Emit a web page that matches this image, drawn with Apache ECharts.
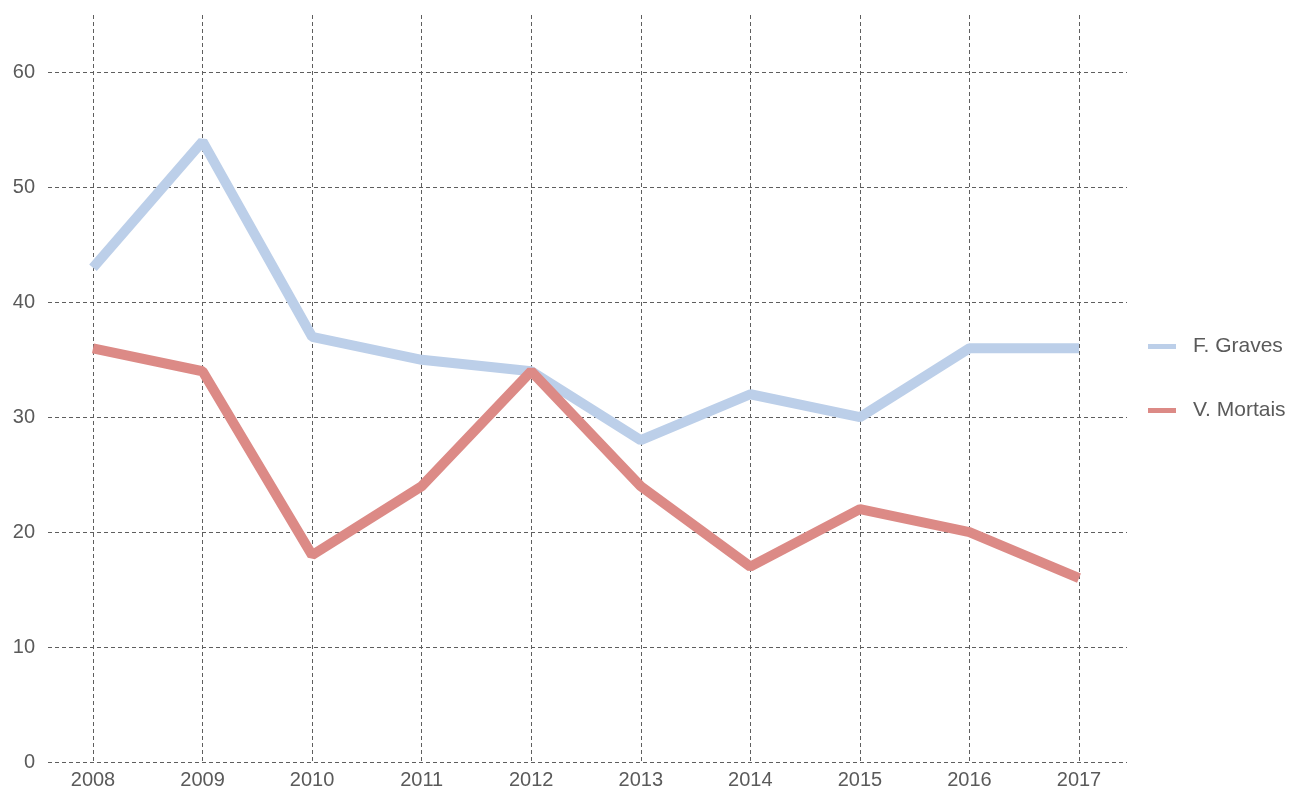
<!DOCTYPE html>
<html>
<head>
<meta charset="utf-8">
<script src="https://cdn.jsdelivr.net/npm/echarts@6/dist/echarts.min.js"></script>
<style>html,body{margin:0;padding:0;background:#fff;}#c{width:1309px;height:792px;}</style>
</head>
<body>
<div id="c"></div>
<script>
var years = ['2008','2009','2010','2011','2012','2013','2014','2015','2016','2017'];
var yTicks = [0,10,20,30,40,50,60];
var graves = [43,54,37,35,34,28,32,30,36,36];
var mortais = [36,34,18,24,34,24,17,22,20,16];
var seriesNames = ['F. Graves','V. Mortais'];

var chart = echarts.init(document.getElementById('c'));
var gridColor = '#5e5e5e';
var txt = '#5a5a5a';
var ff = '"Liberation Sans", Arial, sans-serif';
chart.setOption({
  animation: false,
  backgroundColor: '#fff',
  grid: [
    {left: 48, right: 182, top: 72, bottom: 30},
    {left: 93, right: 230, top: 15, bottom: 30}
  ],
  legend: {
    orient: 'vertical', left: 1143, top: 331, itemGap: 43,
    itemWidth: 28, itemHeight: 5, icon: 'rect',
    textStyle: {fontSize: 21, color: txt, fontFamily: ff, padding: [0,0,0,12]},
    data: seriesNames
  },
  xAxis: [
    {gridIndex: 0, type: 'category', show: false, data: years},
    {gridIndex: 1, type: 'category', boundaryGap: false, data: years,
     axisLine: {show: false}, axisTick: {show: false},
     axisLabel: {fontSize: 20, color: txt, margin: 8, fontFamily: ff},
     splitLine: {show: true, lineStyle: {type: [4,3], color: gridColor, width: 1}}}
  ],
  yAxis: [
    {gridIndex: 0, type: 'value', min: yTicks[0], max: yTicks[yTicks.length-1], interval: 10,
     axisLine: {show: false}, axisTick: {show: false},
     axisLabel: {fontSize: 20, color: txt, margin: 13, fontFamily: ff},
     splitLine: {show: true, lineStyle: {type: [4,3], color: gridColor, width: 1}}},
    {gridIndex: 1, type: 'value', min: 0, max: 65, show: false, splitLine: {show: false}}
  ],
  series: [
    {name: seriesNames[0], type: 'line', xAxisIndex: 1, yAxisIndex: 1, data: graves,
     symbol: 'none', lineStyle: {width: 10, color: '#bccfe9'}, itemStyle: {color: '#bccfe9'}},
    {name: seriesNames[1], type: 'line', xAxisIndex: 1, yAxisIndex: 1, data: mortais,
     symbol: 'none', lineStyle: {width: 10, color: '#dc8a86'}, itemStyle: {color: '#dc8a86'}}
  ]
});
</script>
</body>
</html>
